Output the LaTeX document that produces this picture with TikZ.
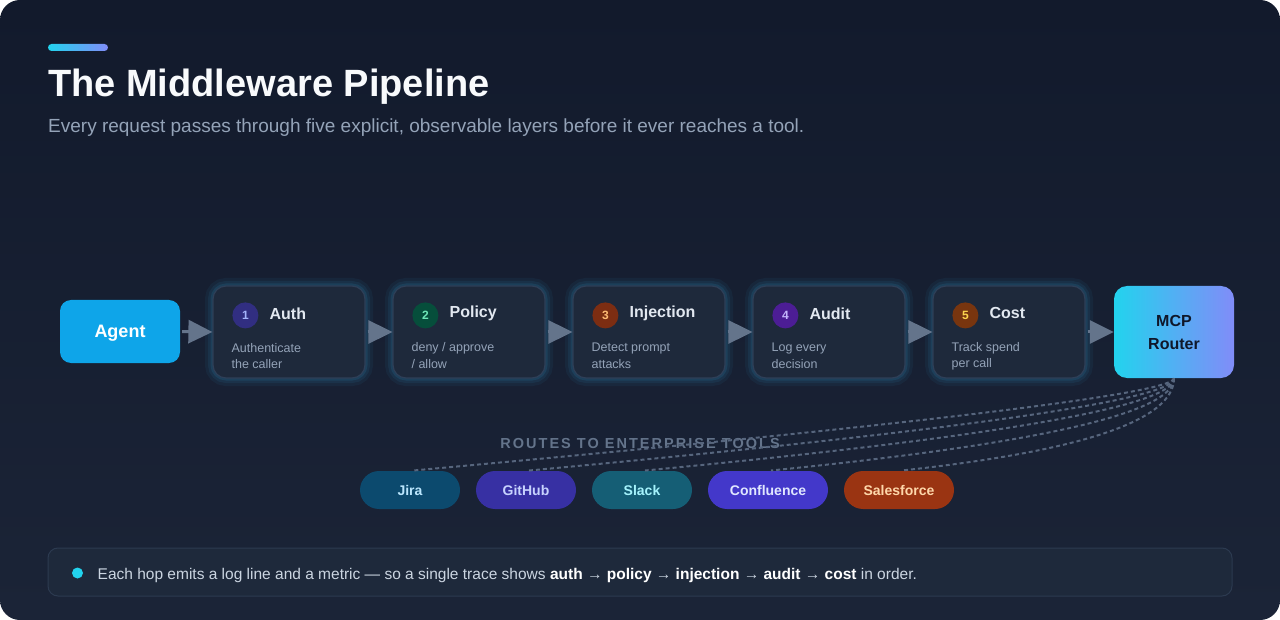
\documentclass[tikz,border=0pt]{standalone}
\usepackage{fontspec}
\setmainfont{Liberation Sans}
\usetikzlibrary{arrows.meta,calc}
\definecolor{bgA}{HTML}{121A2C}
\definecolor{bgB}{HTML}{1B2437}
\definecolor{accA}{HTML}{22D3EE}
\definecolor{accB}{HTML}{818CF8}
\definecolor{titlec}{HTML}{F8FAFC}
\definecolor{subc}{HTML}{94A3B8}
\definecolor{agentc}{HTML}{0EA5E9}
\definecolor{boxfill}{HTML}{1E293B}
\definecolor{boxline}{HTML}{2E3F58}
\definecolor{glowc}{HTML}{38BDF8}
\definecolor{stitle}{HTML}{E2E8F0}
\definecolor{arrowc}{HTML}{64748B}
\definecolor{routec}{HTML}{56657D}
\definecolor{nAf}{HTML}{312E81}\definecolor{nAt}{HTML}{A5B4FC}
\definecolor{nBf}{HTML}{064E3B}\definecolor{nBt}{HTML}{6EE7B7}
\definecolor{nCf}{HTML}{7C2D12}\definecolor{nCt}{HTML}{FDBA74}
\definecolor{nDf}{HTML}{4C1D95}\definecolor{nDt}{HTML}{C4B5FD}
\definecolor{nEf}{HTML}{78350F}\definecolor{nEt}{HTML}{FCD34D}
\definecolor{jiraf}{HTML}{0C4A6E}\definecolor{jirat}{HTML}{BAE6FD}
\definecolor{ghf}{HTML}{3730A3}\definecolor{ght}{HTML}{C7D2FE}
\definecolor{slackf}{HTML}{155E75}\definecolor{slackt}{HTML}{A5F3FC}
\definecolor{conff}{HTML}{4338CA}\definecolor{conft}{HTML}{E0E7FF}
\definecolor{sff}{HTML}{9A3412}\definecolor{sft}{HTML}{FED7AA}
\definecolor{notefill}{HTML}{1E293B}
\definecolor{noteline}{HTML}{2C3A50}
\definecolor{notetext}{HTML}{CBD5E1}
\definecolor{routerdark}{HTML}{0F172A}

\tikzset{
  stagebox/.style={draw=boxline, line width=1.2pt, fill=boxfill, rounded corners=13pt,
    minimum width=152pt, minimum height=92pt, inner sep=0pt,
    preaction={draw=glowc, draw opacity=0.05, line width=16pt, rounded corners=13pt},
    preaction={draw=glowc, draw opacity=0.07, line width=10pt, rounded corners=13pt},
    preaction={draw=glowc, draw opacity=0.10, line width=5pt, rounded corners=13pt}},
  agentbox/.style={fill=agentc, rounded corners=11pt, minimum width=120pt, minimum height=63pt,
    inner sep=0pt, text=white, text height=12.9pt, text depth=0pt,
    font=\fontsize{18}{20}\selectfont\bfseries},
  routerbox/.style={left color=accA, right color=accB, rounded corners=13pt, minimum width=120pt,
    minimum height=92pt, inner sep=0pt, text=routerdark, align=center,
    font=\fontsize{16}{23}\selectfont\bfseries},
  numcirc/.style={circle, minimum size=26pt, inner sep=0pt, font=\fontsize{12}{12}\selectfont\bfseries},
  stagetitle/.style={anchor=west, inner sep=0pt, text=stitle, font=\fontsize{16}{18}\selectfont\bfseries},
  stagedesc/.style={anchor=west, inner sep=0pt, text=subc, font=\fontsize{12.5}{14}\selectfont},
  flowarrow/.style={draw=arrowc, line width=3pt, -{Triangle[length=24pt,width=23pt]}, shorten <=2pt},
  pill/.style={rounded corners=19pt, minimum height=38pt, inner sep=0pt,
    text height=10pt, text depth=0pt, font=\fontsize{14}{15}\selectfont\bfseries},
  route/.style={draw=routec, line width=2pt, dash pattern=on 4pt off 3pt, shorten >=3pt},
}

\newcommand{\mwstage}[9]{%
  \node[stagebox] (#1) at (#2,332) {};
  \node[numcirc, fill=#7, text=#8] (#1n) at ($(#1.north west)+(33,30)$) {#9};
  \node[stagetitle] (#1t) at ($(#1.north west)+(57,28)$) {#3};
  \node[stagedesc] (#1d) at ($(#1.north west)+(19,63)$) {#4};
  \node[stagedesc] (#1e) at ($(#1.north west)+(19,79)$) {#5};
}

\begin{document}
\begin{tikzpicture}[x=1pt,y=-1pt]
\fill[white] (0,0) rectangle (1280,620);
\useasboundingbox (0,0) rectangle (1280,620);
\shade[rounded corners=20pt, top color=bgA, bottom color=bgB] (0,0) rectangle (1280,620);

% header
\shade[rounded corners=3.5pt, left color=accA, right color=accB] (48,44) rectangle (108,51);
\node[anchor=base west, inner sep=0pt, text=titlec, font=\fontsize{38}{42}\selectfont\bfseries] (title) at (48,97) {The Middleware Pipeline};
\node[anchor=base west, inner sep=0pt, text=subc, font=\fontsize{19}{21}\selectfont] (subtitle) at (48,132.5) {Every request passes through five explicit, observable layers before it ever reaches a tool.};

% pipeline
\node[agentbox] (agent) at (120,331.5) {Agent};
\mwstage{auth}{289}{Auth}{Authenticate}{the caller}{}{nAf}{nAt}{1}
\mwstage{policy}{469}{Policy}{deny / approve}{/ allow}{}{nBf}{nBt}{2}
\mwstage{inj}{649}{Injection}{Detect prompt}{attacks}{}{nCf}{nCt}{3}
\mwstage{audit}{829}{Audit}{Log every}{decision}{}{nDf}{nDt}{4}
\mwstage{cost}{1009}{Cost}{Track spend}{per call}{}{nEf}{nEt}{5}
\node[routerbox] (router) at (1174,332) {MCP\\Router};

\draw[flowarrow] (agent.east) -- (auth.west);
\draw[flowarrow] (auth.east) -- (policy.west);
\draw[flowarrow] (policy.east) -- (inj.west);
\draw[flowarrow] (inj.east) -- (audit.west);
\draw[flowarrow] (audit.east) -- (cost.west);
\draw[flowarrow] (cost.east) -- (router.west);

% tools
\node[anchor=base, inner sep=0pt, text=arrowc, font=\fontsize{14.5}{16}\selectfont\bfseries\addfontfeature{LetterSpace=14}] (routes) at (640,448.5) {ROUTES TO ENTERPRISE TOOLS};

\node[pill, fill=jiraf, text=jirat, minimum width=100pt] (jira) at (410,490) {Jira};
\node[pill, fill=ghf, text=ght, minimum width=100pt] (github) at (526,490) {GitHub};
\node[pill, fill=slackf, text=slackt, minimum width=100pt] (slack) at (642,490) {Slack};
\node[pill, fill=conff, text=conft, minimum width=120pt] (conf) at (768,490) {Confluence};
\node[pill, fill=sff, text=sft, minimum width=110pt] (sf) at (899,490) {Salesforce};

\foreach \t/\dy in {jira/23,github/32.5,slack/42,conf/52,sf/63}{
  \coordinate (q\t) at ($(router.south)+(0,\dy)$);
  \draw[route] (router.south) .. controls ($(router.south)!0.6667!(q\t)$) and ($(\t.north)!0.6667!(q\t)$) .. (\t.north);
}

% note
\node[draw=noteline, line width=1pt, fill=notefill, rounded corners=10pt, minimum width=1184pt, minimum height=48pt, inner sep=0pt] (note) at (640,572) {};
\node[circle, fill=accA, minimum size=11pt, inner sep=0pt] (dot) at ($(note.west)+(30,1)$) {};
\node[anchor=west, inner sep=0pt, text=notetext, font=\fontsize{15.5}{17}\selectfont] (notetext) at ($(note.west)+(50,3)$) {Each hop emits a log line and a metric — so a single trace shows \textcolor{white}{\textbf{auth}} → \textcolor{white}{\textbf{policy}} → \textcolor{white}{\textbf{injection}} → \textcolor{white}{\textbf{audit}} → \textcolor{white}{\textbf{cost}} in order.};
\end{tikzpicture}
\end{document}
